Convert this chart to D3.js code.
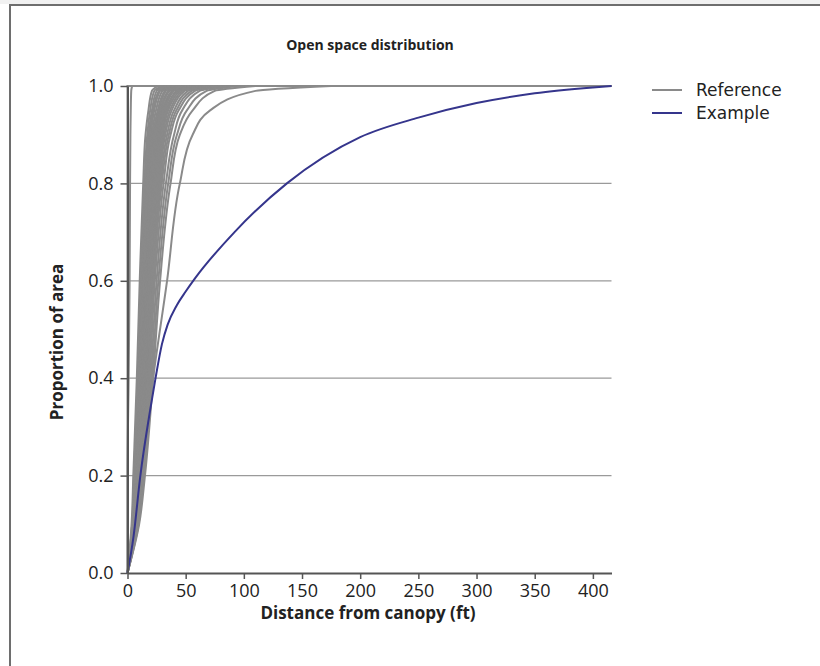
<!DOCTYPE html>
<html>
<head>
<meta charset="utf-8">
<script src="https://cdn.jsdelivr.net/npm/d3@7"></script>
<style>
  body { margin:0; background:#fff; }
  text { font-family: "Open Sans", "DejaVu Sans", sans-serif; fill:#222; }
</style>
</head>
<body>
<div class="canvas"></div>
<script>
var refLevels = [0, 0.1, 0.2, 0.4, 0.6, 0.8, 0.9, 0.95, 0.99, 1];

// distance (ft) where each reference curve reaches the level above
var refCurves = [
  [0, 0, 0, 0, 0, 0, 0, 0, 0, 0],
  [0, 0, 0, 1, 1.8, 2.2, 2.5, 2.8, 3.2, 4],
  [0, 3.5, 5, 8, 10.5, 13.5, 15.5, 18, 21, 26],
  [0, 4, 5.5, 9, 11.5, 14.5, 17, 19.5, 23, 30],
  [0, 4, 6, 9.5, 12, 15.5, 18, 21, 25, 34],
  [0, 4.5, 6.5, 10, 13, 16.5, 19, 22, 27, 38],
  [0, 5, 7, 10.5, 13.5, 17, 20, 23, 28, 40],
  [0, 5, 7.5, 11, 14, 18, 21, 24.5, 30, 44],
  [0, 5.5, 8, 11.5, 15, 19, 22, 26, 32, 46],
  [0, 5.5, 8, 12, 15.5, 19.5, 23, 27, 33, 48],
  [0, 6, 8.5, 12.5, 16, 20, 24, 28, 35, 50],
  [0, 6, 9, 13, 16.5, 21, 25, 29, 36, 52],
  [0, 6.5, 9, 13.5, 17, 22, 26, 30, 38, 55],
  [0, 6.5, 9.5, 14, 17.5, 22.5, 27, 31, 39, 56],
  [0, 7, 10, 14.5, 18, 23, 27.5, 32, 40, 58],
  [0, 7, 10, 15, 18.5, 24, 28.5, 33, 42, 60],
  [0, 7.5, 10.5, 15.5, 19, 25, 29.5, 34, 43, 62],
  [0, 7.5, 11, 16, 20, 26, 30.5, 35, 45, 65],
  [0, 8, 11, 16.5, 20.5, 27, 31.5, 36.5, 47, 68],
  [0, 8, 11.5, 17, 21, 27.5, 32.5, 38, 49, 70],
  [0, 8.5, 12, 17.5, 22, 28.5, 34, 40, 52, 74],
  [0, 8.5, 12.5, 18, 22.5, 29.5, 35.5, 42, 55, 78],
  [0, 9, 13, 19, 23.5, 31, 37, 44, 58, 82],
  [0, 9, 13.5, 20, 25, 33, 40, 47, 62, 88],
  [0, 9.5, 14, 21, 26.5, 35, 42.5, 51, 68, 95],
  [0, 10, 15, 22, 28, 37, 45, 56, 75, 110],
  [0, 8, 12, 22, 34, 45, 56, 71, 110, 175]
];

// the example site
var exDist = [0, 5.2, 10.9, 19.5, 23.8, 29.6, 34.5, 42.4, 50, 58, 92, 137, 200, 250, 300, 350, 400, 416];
var exProp = [0, 0.075, 0.197, 0.335, 0.396, 0.47, 0.51, 0.55, 0.578, 0.605, 0.70, 0.80, 0.895, 0.935, 0.965, 0.985, 0.997, 1];

var xTicks = [0, 50, 100, 150, 200, 250, 300, 350, 400];
var yTicks = [0, 0.2, 0.4, 0.6, 0.8, 1.0];
var xMax = 416;

var seriesNames = ["Reference", "Example"];
var seriesColors = ["#8a8a8a", "#35358c"];

var width = 820;
var height = 666;

var svg = d3.select(".canvas")
  .append("svg")
    .attr("width", width)
    .attr("height", height);

// frame (only top and left edge show in the picture)
svg.append("rect")
  .attr("x", 0).attr("y", 0)
  .attr("width", width).attr("height", 4)
  .attr("fill", "#f1f1f1");
svg.append("path")
  .attr("d", "M10,666 L10,5 L820,5")
  .attr("fill", "none")
  .attr("stroke", "#6e6e6e")
  .attr("stroke-width", 2);

var xscale = d3.scaleLinear()
  .domain([0, xMax])
  .range([127.5, 611.5]);
var yscale = d3.scaleLinear()
  .domain([0, 1])
  .range([573, 86]);

// gridlines
svg.append("g")
  .selectAll("line")
  .data(yTicks.filter(function(d){ return d > 0 && d < 1; }))
  .enter()
  .append("line")
    .attr("x1", xscale(0))
    .attr("x2", xscale(xMax))
    .attr("y1", function(d){ return yscale(d); })
    .attr("y2", function(d){ return yscale(d); })
    .attr("stroke", "#9a9a9a")
    .attr("stroke-width", 1.2);

// reference curves
var refLine = d3.line()
  .x(function(d){ return xscale(d[0]); })
  .y(function(d){ return yscale(d[1]); })
  .curve(d3.curveMonotoneY);

svg.append("g")
  .selectAll("path")
  .data(refCurves)
  .enter()
  .append("path")
    .attr("d", function(c){
      var pts = c.map(function(x, i){ return [x, refLevels[i]]; });
      return refLine(pts) + "L" + xscale(xMax) + "," + yscale(1);
    })
    .attr("fill", "none")
    .attr("stroke", seriesColors[0])
    .attr("stroke-width", 2);

// example curve
var exLine = d3.line()
  .x(function(d, i){ return xscale(exDist[i]); })
  .y(function(d){ return yscale(d); })
  .curve(d3.curveMonotoneX);

svg.append("path")
  .attr("d", exLine(exProp))
  .attr("fill", "none")
  .attr("stroke", seriesColors[1])
  .attr("stroke-width", 2);

// axes
svg.append("g")
  .attr("transform", "translate(0," + yscale(0) + ")")
  .call(d3.axisBottom(xscale).tickValues(xTicks).tickSize(6).tickPadding(5).tickSizeOuter(0));
svg.append("g")
  .attr("transform", "translate(" + xscale(0) + ",0)")
  .call(d3.axisLeft(yscale).tickValues(yTicks).tickFormat(d3.format(".1f")).tickSize(7).tickPadding(7).tickSizeOuter(0));

svg.selectAll(".domain")
  .attr("stroke", "#555")
  .attr("stroke-width", 2);
svg.selectAll(".tick line")
  .attr("stroke", "#555")
  .attr("stroke-width", 1.5);
svg.selectAll(".tick text")
  .attr("font-family", "Open Sans")
  .attr("font-size", "18px")
  .attr("fill", "#222");

// titles
svg.append("text")
  .attr("x", 370).attr("y", 50)
  .attr("text-anchor", "middle")
  .attr("font-size", "14px")
  .attr("font-weight", "bold")
  .text("Open space distribution");

svg.append("text")
  .attr("x", 368).attr("y", 619)
  .attr("text-anchor", "middle")
  .attr("font-size", "17px")
  .attr("font-weight", "bold")
  .text("Distance from canopy (ft)");

svg.append("text")
  .attr("transform", "translate(63,342) rotate(-90)")
  .attr("text-anchor", "middle")
  .attr("font-size", "17px")
  .attr("font-weight", "bold")
  .text("Proportion of area");

// legend
var lg = svg.append("g")
  .selectAll("g")
  .data(seriesNames)
  .enter()
  .append("g")
    .attr("transform", function(d, i){ return "translate(652," + (90 + 23 * i) + ")"; });
lg.append("line")
  .attr("x1", 0).attr("x2", 30)
  .attr("stroke", function(d, i){ return seriesColors[i]; })
  .attr("stroke-width", 2);
lg.append("text")
  .attr("x", 44).attr("y", 6)
  .style("font-family", "DejaVu Sans")
  .attr("font-size", "17px")
  .text(function(d){ return d; });
</script>
</body>
</html>
